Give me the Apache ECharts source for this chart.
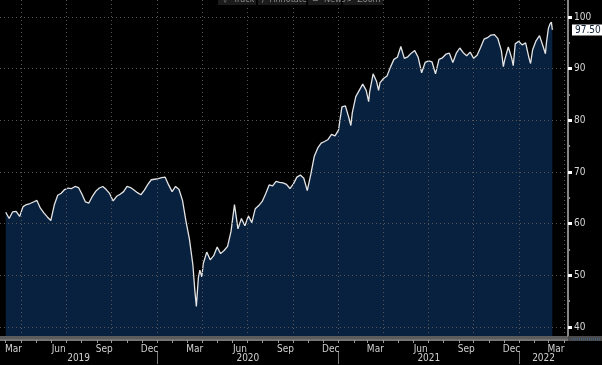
<!DOCTYPE html>
<html><head><meta charset="utf-8">
<script src="https://cdn.jsdelivr.net/npm/echarts@6/dist/echarts.min.js"></script>
<style>html,body{margin:0;padding:0;background:#000;overflow:hidden}#c{width:602px;height:365px}</style>
</head><body><div id="c"></div>
<script>
// ---- data ----
const dates2019 = ['2019-03-01','2019-03-08','2019-03-15','2019-03-22','2019-03-29','2019-04-05','2019-04-12','2019-04-19','2019-04-26','2019-05-03','2019-05-10','2019-05-17','2019-05-24','2019-05-31','2019-06-07','2019-06-14','2019-06-21','2019-06-28','2019-07-05','2019-07-12','2019-07-19','2019-07-26','2019-08-02','2019-08-09','2019-08-16','2019-08-23','2019-08-30','2019-09-06','2019-09-13','2019-09-20','2019-09-27','2019-10-04','2019-10-11','2019-10-18','2019-10-25','2019-11-01','2019-11-08','2019-11-15','2019-11-22','2019-11-29','2019-12-06','2019-12-13','2019-12-20','2019-12-27'];
const values2019 = [62.2,61.0,62.3,62.4,61.4,63.3,63.7,63.9,64.2,64.5,63.0,62.1,61.3,60.6,63.6,65.5,65.9,66.6,66.9,66.8,67.2,67.0,65.7,64.2,64.0,65.3,66.3,66.9,67.2,66.6,65.8,64.4,65.3,65.7,66.2,67.2,67.0,66.5,66.0,65.6,66.5,67.6,68.5,68.6];
const dates2020 = ['2020-01-03','2020-01-10','2020-01-17','2020-01-24','2020-01-31','2020-02-07','2020-02-14','2020-02-21','2020-02-28','2020-03-06','2020-03-13','2020-03-17','2020-03-20','2020-03-24','2020-03-27','2020-03-31','2020-04-03','2020-04-10','2020-04-17','2020-04-24','2020-05-01','2020-05-08','2020-05-15','2020-05-22','2020-05-29','2020-06-05','2020-06-12','2020-06-19','2020-06-26','2020-07-03','2020-07-10','2020-07-17','2020-07-24','2020-07-31','2020-08-07','2020-08-14','2020-08-21','2020-08-28','2020-09-04','2020-09-11','2020-09-18','2020-09-25','2020-10-02','2020-10-09','2020-10-16','2020-10-23','2020-10-30','2020-11-06','2020-11-13','2020-11-20','2020-11-27','2020-12-04','2020-12-11','2020-12-18','2020-12-25'];
const values2020 = [68.7,68.9,69.0,67.5,66.2,67.2,66.6,64.5,60.5,57.0,52.0,47.0,44.0,49.5,51.0,49.7,52.3,54.5,53.0,53.8,55.5,54.2,54.8,55.6,58.5,63.7,59.0,61.0,59.6,61.5,60.2,62.9,63.5,64.3,65.8,67.5,67.3,68.2,68.0,67.9,67.6,66.8,67.7,69.0,69.4,68.8,66.4,69.5,73.0,74.6,75.6,75.9,76.3,77.3,77.0];
const dates2021 = ['2021-01-01','2021-01-08','2021-01-15','2021-01-22','2021-01-26','2021-01-29','2021-02-05','2021-02-12','2021-02-19','2021-02-26','2021-03-03','2021-03-05','2021-03-12','2021-03-19','2021-03-23','2021-03-26','2021-04-02','2021-04-09','2021-04-16','2021-04-23','2021-04-30','2021-05-07','2021-05-14','2021-05-21','2021-05-28','2021-06-04','2021-06-11','2021-06-18','2021-06-25','2021-07-02','2021-07-09','2021-07-16','2021-07-23','2021-07-30','2021-08-06','2021-08-13','2021-08-20','2021-08-27','2021-09-03','2021-09-10','2021-09-17','2021-09-24','2021-10-01','2021-10-08','2021-10-15','2021-10-22','2021-10-29','2021-11-05','2021-11-12','2021-11-19','2021-11-26','2021-11-30','2021-12-03','2021-12-10','2021-12-17','2021-12-20','2021-12-24','2021-12-31'];
const values2021 = [78.1,82.6,82.8,80.5,79.0,81.5,84.6,85.8,87.0,85.8,83.6,85.5,89.0,87.5,85.8,87.3,88.1,88.6,90.3,91.8,92.2,94.3,92.0,92.3,93.0,93.5,92.2,89.2,91.2,91.5,91.3,89.0,91.8,92.1,92.8,93.0,91.2,93.0,94.0,93.1,92.5,93.2,92.0,92.6,94.1,95.7,96.0,96.5,96.6,95.8,93.5,90.4,91.8,94.2,92.0,90.6,94.8,95.3];
const dates2022 = ['2022-01-07','2022-01-14','2022-01-21','2022-01-24','2022-01-28','2022-02-04','2022-02-11','2022-02-18','2022-02-23','2022-02-25','2022-03-01','2022-03-04','2022-03-07','2022-03-09'];
const values2022 = [94.6,95.0,92.0,91.0,93.6,95.4,96.4,94.4,92.9,95.0,97.8,98.6,99.0,97.5];

const yTicks = [40,50,60,70,80,90,100];
const yMinorTicks = [45,55,65,75,85,95];
const monthNames = ['Jan','Feb','Mar','Apr','May','Jun','Jul','Aug','Sep','Oct','Nov','Dec'];
const labelMonths = [2,5,8,11];
const years = [2019,2020,2021,2022];
const toolbarItems = ['\u25BD  Track','\u2215  Annotate','\u2261  News','\u2315  Zoom'];

// ---- build ----
function ts(s) { const p = s.split('-').map(Number); return new Date(p[0], p[1] - 1, p[2]).getTime(); }
const dates = [].concat(dates2019, dates2020, dates2021, dates2022);
const values = [].concat(values2019, values2020, values2021, values2022);
const seriesData = dates.map((d, i) => [ts(d), values[i]]);
const lastValue = values[values.length - 1];

const xMin = new Date(2019, 1, 17, 10).getTime();
const xMax = new Date(2022, 3, 9, 14).getTime();
const yMin = 38.26, yMax = 103.29;

const monthStarts = [], quarterStarts = [], yearStarts = [], labelMids = [];
for (const y of years) for (let m = 0; m < 12; m++) {
  const s = new Date(y, m, 1).getTime();
  const e = new Date(y, m + 1, 1).getTime();
  if (s >= xMin && s <= xMax) {
    monthStarts.push(s);
    if (m % 3 === 0) quarterStarts.push(s);
    if (m === 0) yearStarts.push(s);
  }
  const mid = (s + e) / 2;
  if (labelMonths.includes(m) && mid >= xMin && mid <= xMax) labelMids.push(mid);
}
const yearMids = years.map(y => (Math.max(xMin, new Date(y, 0, 1).getTime()) + Math.min(xMax, new Date(y + 1, 0, 1).getTime())) / 2);

const FONT = "'Liberation Sans Narrow','Arial Narrow','DejaVu Sans Condensed',Arial,sans-serif";
const gridLine = { color: '#565656', width: 1, type: [1, 3] };

const chart = echarts.init(document.getElementById('c'), null, { renderer: 'canvas' });
const toolbarX = [218, 258, 308, 343];
const toolbarW = [38, 48, 33, 40];
const graphic = [];
toolbarItems.forEach((t, i) => {
  graphic.push({ type: 'rect', shape: { x: toolbarX[i], y: 0, width: toolbarW[i], height: 5 }, style: { fill: '#1b1b1b' }, z: 10 });
  graphic.push({ type: 'text', x: toolbarX[i] + 4, y: 0, style: { text: t, fill: '#8a8a8a', font: '9px ' + FONT, verticalAlign: 'middle' }, z: 11 });
});
graphic.push({ type: 'rect', shape: { x: 568, y: 336, width: 34, height: 5 }, style: { fill: '#4a4a4a' }, z: 10 });
graphic.push({ type: 'line', shape: { x1: 571, y1: 339, x2: 601, y2: 339 }, style: { stroke: '#3a6fb0', lineWidth: 1, lineDash: [1, 1] }, z: 11 });

function xAx(extra) { return Object.assign({ type: 'value', min: xMin, max: xMax, position: 'bottom', scale: true }, extra); }

chart.setOption({
  backgroundColor: '#000',
  animation: false,
  grid: { left: 0, right: 34, top: 0, bottom: 29, containLabel: false, outerBoundsMode: 'none' },
  xAxis: [
    xAx({ offset: 0, z: 3,
      axisLine: { show: false }, axisTick: { show: false, customValues: quarterStarts },
      axisLabel: { show: false }, splitLine: { show: true, lineStyle: gridLine } }),
    xAx({ offset: 1,
      axisLine: { show: true, lineStyle: { color: '#5c5c5c', width: 3 } },
      axisTick: { show: false }, axisLabel: { show: false }, splitLine: { show: false } }),
    xAx({ offset: 4,
      axisLine: { show: true, lineStyle: { color: '#9a9a9a', width: 1.5 } },
      axisTick: { show: true, customValues: monthStarts, length: 3, lineStyle: { color: '#9a9a9a', width: 1 } },
      axisLabel: { show: true, customValues: labelMids, margin: 4, color: '#d0d0d0', fontSize: 10, fontFamily: FONT,
        hideOverlap: false, formatter: v => monthNames[new Date(v).getMonth()] },
      splitLine: { show: false } }),
    xAx({ offset: 15,
      axisLine: { show: false },
      axisTick: { show: true, customValues: yearStarts, length: 13, lineStyle: { color: '#7a7a7a', width: 1 } },
      axisLabel: { show: true, customValues: yearMids, margin: 2, color: '#d0d0d0', fontSize: 10, fontFamily: FONT,
        hideOverlap: false, formatter: v => String(new Date(v).getFullYear()) },
      splitLine: { show: false } })
  ],
  yAxis: [
    { type: 'value', position: 'right', min: yMin, max: yMax, z: 3,
      axisLine: { show: true, lineStyle: { color: '#858585', width: 2 } },
      axisTick: { show: true, customValues: yTicks, length: 4, lineStyle: { color: '#ffffff', width: 3 } },
      axisLabel: { show: true, customValues: yTicks, margin: 6, color: '#d8d8d8', fontSize: 10, fontFamily: FONT },
      splitLine: { show: true, lineStyle: gridLine } },
    { type: 'value', position: 'right', min: yMin, max: yMax,
      axisLine: { show: false },
      axisTick: { show: true, customValues: yMinorTicks, length: 2, lineStyle: { color: '#8a8a8a', width: 2 } },
      axisLabel: { show: false }, splitLine: { show: false } },
    { type: 'value', position: 'right', min: yMin, max: yMax,
      axisLine: { show: false }, axisTick: { show: false },
      axisLabel: { show: true, customValues: [lastValue], margin: 4, color: '#0c1d36', fontSize: 10, fontFamily: FONT,
        backgroundColor: '#ffffff', padding: [1, 4, 0, 3], formatter: v => v.toFixed(2) },
      splitLine: { show: false } }
  ],
  series: [{
    type: 'line', xAxisIndex: 0, yAxisIndex: 0, data: seriesData, symbol: 'none', z: 2,
    lineStyle: { color: '#e4e4e4', width: 1.3 },
    areaStyle: { color: '#08213f', opacity: 1, origin: 'start' }
  }],
  graphic: graphic
});
</script></body></html>
